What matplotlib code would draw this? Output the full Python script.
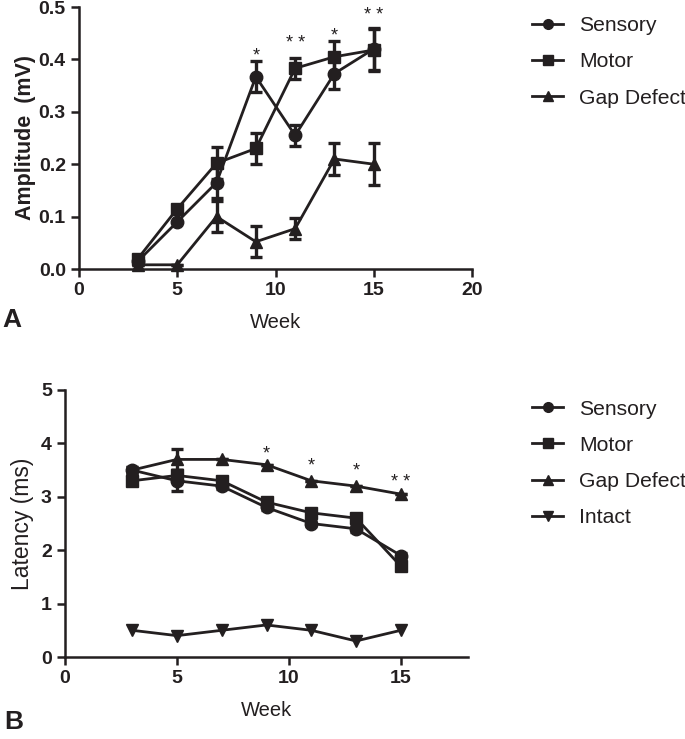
import matplotlib
matplotlib.use("Agg")
import matplotlib.pyplot as plt
from matplotlib.lines import Line2D

plt.rcParams['font.family'] = ['Liberation Sans', 'DejaVu Sans']

# ---- Panel A data (Amplitude, mV) ----
weeks = [3, 5, 7, 9, 11, 13, 15]
amp_sensory = [0.015, 0.09, 0.165, 0.367, 0.255, 0.373, 0.42]
amp_sensory_err = [0.0, 0.0, 0.03, 0.03, 0.02, 0.03, 0.04]
amp_motor = [0.02, 0.115, 0.202, 0.23, 0.383, 0.405, 0.418]
amp_motor_err = [0.0, 0.0, 0.03, 0.03, 0.02, 0.03, 0.04]
amp_gap = [0.008, 0.008, 0.10, 0.052, 0.077, 0.21, 0.20]
amp_gap_err = [0.0, 0.0, 0.03, 0.03, 0.02, 0.03, 0.04]
amp_star_weeks = [9, 11, 13, 15]
amp_star_y = [0.39, 0.415, 0.428, 0.467]
amp_star_txt = ['*', '* *', '*', '* *']

# ---- Panel B data (Latency, ms) ----
lat_sensory = [3.5, 3.3, 3.2, 2.8, 2.5, 2.4, 1.9]
lat_sensory_err = [0.05, 0.2, 0.05, 0.05, 0.05, 0.05, 0.05]
lat_motor = [3.3, 3.4, 3.3, 2.9, 2.7, 2.6, 1.7]
lat_motor_err = [0.05, 0.1, 0.05, 0.05, 0.05, 0.05, 0.05]
lat_gap = [3.5, 3.7, 3.7, 3.6, 3.3, 3.2, 3.05]
lat_gap_err = [0.05, 0.2, 0.0, 0.0, 0.0, 0.0, 0.0]
lat_intact = [0.5, 0.4, 0.5, 0.6, 0.5, 0.3, 0.5]
lat_star_weeks = [9, 11, 13, 15]
lat_star_y = [3.65, 3.42, 3.32, 3.1]
lat_star_txt = ['*', '*', '*', '* *']

W, H = 685, 739
fig = plt.figure(figsize=(W / 100, H / 100), dpi=100)
c = '#231f20'

def style_axes(ax):
    for s in ['top', 'right']:
        ax.spines[s].set_visible(False)
    for s in ['left', 'bottom']:
        ax.spines[s].set_linewidth(1.8)
        ax.spines[s].set_color(c)
    ax.tick_params(width=1.8, length=6, color=c, labelsize=14)
    for lab in ax.get_xticklabels() + ax.get_yticklabels():
        lab.set_fontweight('bold')
        lab.set_color(c)

kw = dict(color=c, lw=2.0, ms=9, capsize=4.5, capthick=2.4, elinewidth=2.4, clip_on=False)

def handles(markers, labels):
    return [Line2D([], [], color=c, lw=2.0, marker=m, ms=7, label=l) for m, l in zip(markers, labels)]

leg_kw = dict(loc='upper left', frameon=False, fontsize=15.2, handlelength=1.45,
              handletextpad=0.75, labelspacing=0.82, borderaxespad=0)

axA = fig.add_axes([79 / W, 1 - 269 / H, (472 - 79) / W, (269 - 7) / H])
axA.errorbar(weeks, amp_sensory, yerr=amp_sensory_err, marker='o', **kw)
axA.errorbar(weeks, amp_motor, yerr=amp_motor_err, marker='s', **kw)
axA.errorbar(weeks, amp_gap, yerr=amp_gap_err, marker='^', **kw)
for xw, yv, t in zip(amp_star_weeks, amp_star_y, amp_star_txt):
    axA.text(xw, yv, t, ha='center', va='bottom', fontsize=13, color=c)
axA.set_xlim(0, 20)
axA.set_ylim(0, 0.5)
axA.set_xticks([0, 5, 10, 15, 20])
axA.set_yticks([0.0, 0.1, 0.2, 0.3, 0.4, 0.5])
axA.set_yticklabels(['0.0', '0.1', '0.2', '0.3', '0.4', '0.5'])
axA.set_ylabel('Amplitude  (mV)', fontsize=15.5, fontweight='bold', color=c, labelpad=2)
axA.set_xlabel('Week', fontsize=14.5, color=c, labelpad=10)
style_axes(axA)
legA = axA.legend(handles=handles(['o', 's', '^'], ['Sensory', 'Motor', 'Gap Defect']),
                  bbox_to_anchor=((524 - 79) / 393, 0.998), **leg_kw)
for t in legA.get_texts():
    t.set_color(c)
fig.text(2 / W, 1 - 320 / H, 'A', fontsize=19, fontweight='bold', color=c, va='center')

axB = fig.add_axes([65 / W, 1 - 657 / H, (468 - 65) / W, (657 - 390) / H])
axB.errorbar(weeks, lat_sensory, yerr=lat_sensory_err, marker='o', **kw)
axB.errorbar(weeks, lat_motor, yerr=lat_motor_err, marker='s', **kw)
axB.errorbar(weeks, lat_gap, yerr=lat_gap_err, marker='^', **kw)
axB.plot(weeks, lat_intact, marker='v', color=c, lw=2.0, ms=9, clip_on=False)
for xw, yv, t in zip(lat_star_weeks, lat_star_y, lat_star_txt):
    axB.text(xw, yv, t, ha='center', va='bottom', fontsize=13, color=c)
axB.set_xlim(0, 18)
axB.set_ylim(0, 5)
axB.set_xticks([0, 5, 10, 15])
axB.set_yticks([0, 1, 2, 3, 4, 5])
axB.set_ylabel('Latency (ms)', fontsize=16.5, color=c, labelpad=5)
axB.set_xlabel('Week', fontsize=14.5, color=c, labelpad=10)
style_axes(axB)
legB = axB.legend(handles=handles(['o', 's', '^', 'v'], ['Sensory', 'Motor', 'Gap Defect', 'Intact']),
                  bbox_to_anchor=((524 - 65) / 403, 0.996), **leg_kw)
for t in legB.get_texts():
    t.set_color(c)
fig.text(4 / W, 1 - 722 / H, 'B', fontsize=19, fontweight='bold', color=c, va='center')

fig.savefig('out.png', dpi=100)
